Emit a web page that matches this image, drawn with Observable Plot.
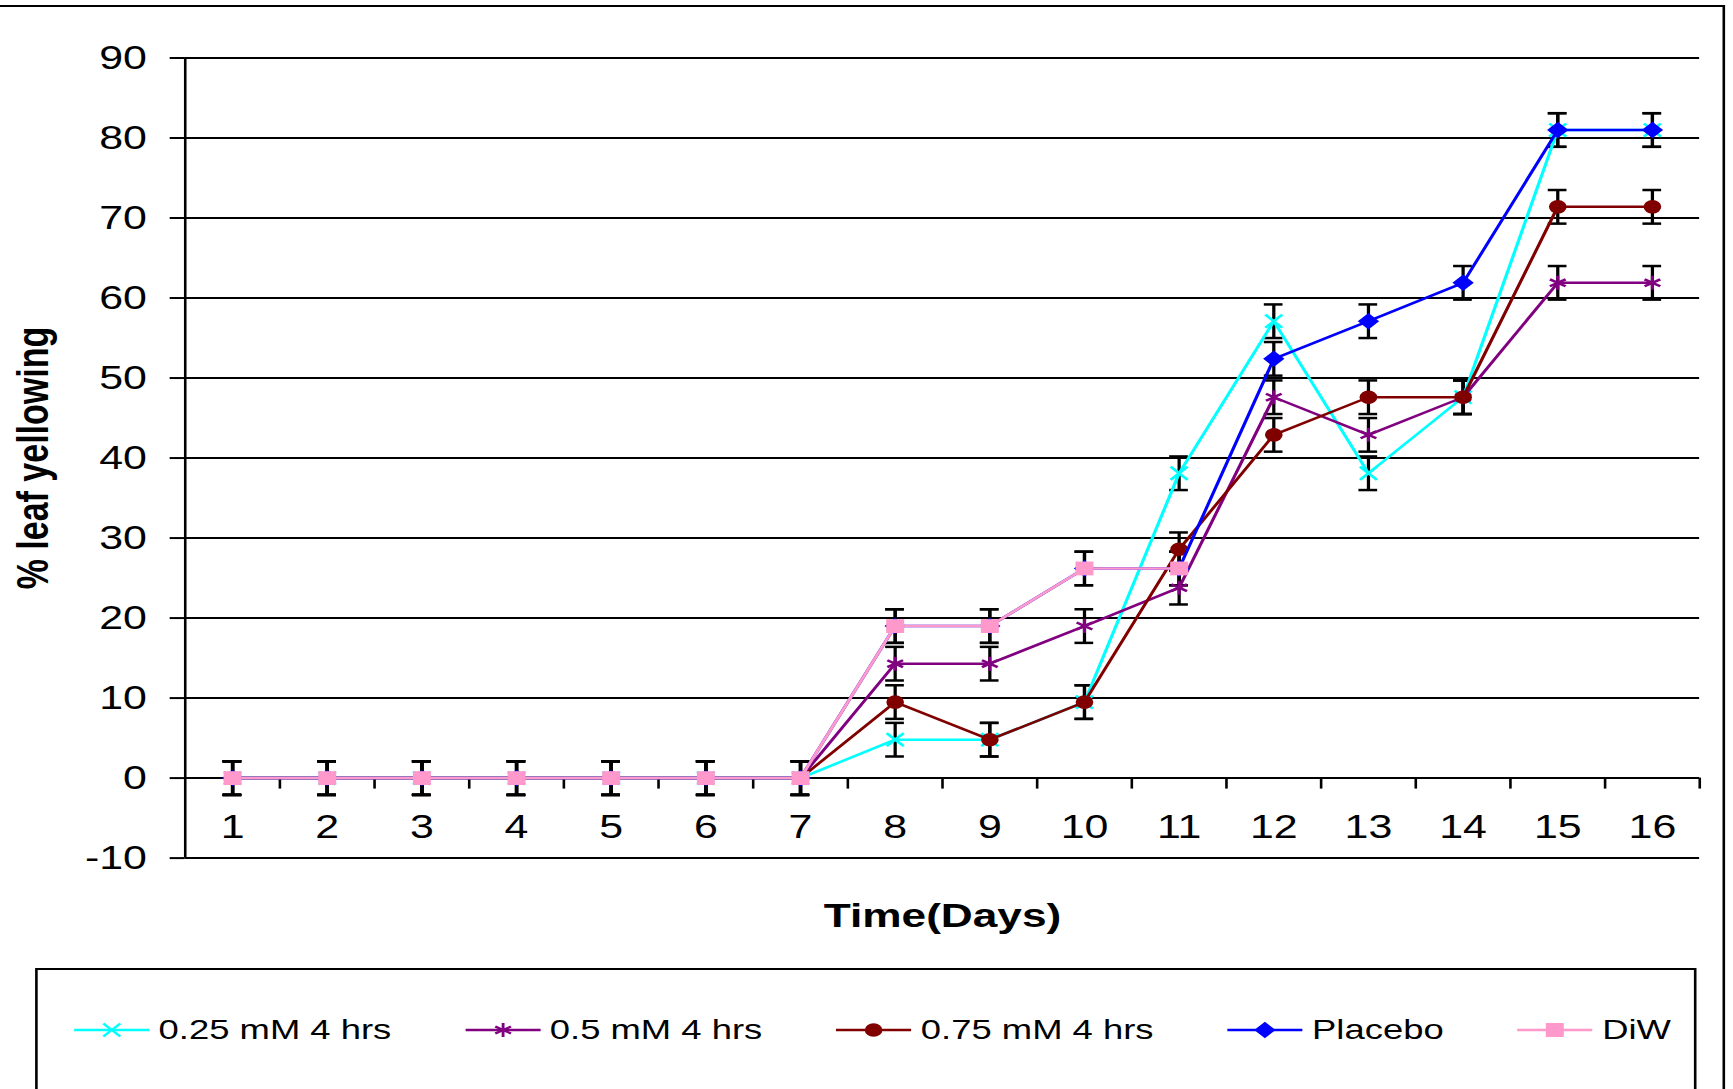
<!DOCTYPE html>
<html>
<head>
<meta charset="utf-8">
<script src="https://cdn.jsdelivr.net/npm/d3@7"></script>
<script src="https://cdn.jsdelivr.net/npm/@observablehq/plot@0.6"></script>
<style>
  html, body { margin: 0; padding: 0; background: #fff; overflow: hidden; }
  #stage { position: absolute; left: 0; top: 0; width: 1333px; height: 1089px;
           transform: scaleX(1.3); transform-origin: 0 0;
           font-family: 'Liberation Sans', Arial, sans-serif; color: #000; }
  #outer { position: absolute; left: -10px; top: 5px; width: 1337px; height: 1200px;
           border: 2px solid #000; box-sizing: border-box; }
  #plot { position: absolute; left: 0; top: 0; }
  #legend { position: absolute; left: 27px; top: 968px; width: 1278px; height: 200px;
            border: 2px solid #000; box-sizing: border-box; background: #fff; }
  #legend .row { position: absolute; top: 44px; left: 28px; display: flex; gap: 57px; align-items: center; }
  #legend .item { display: flex; align-items: center; }
  #legend .item svg { margin-right: 7px; display: block; }
  #legend .item span { font-size: 28px; line-height: 32px; white-space: nowrap; }
</style>
</head>
<body>
<div id="stage">
  <div id="outer"></div>
  <div id="plot"></div>
  <div id="legend"><div class="row"></div></div>
</div>
<script>
// ---- data ----
const days = [1, 2, 3, 4, 5, 6, 7, 8, 9, 10, 11, 12, 13, 14, 15, 16];
const seriesNames = ["0.25 mM 4 hrs", "0.5 mM 4 hrs", "0.75 mM 4 hrs", "Placebo", "DiW"];
const s025    = [0, 0, 0, 0, 0, 0, 0, 4.8, 4.8, 9.5, 38.1, 57.1, 38.1, 47.6, 81, 81];
const s05     = [0, 0, 0, 0, 0, 0, 0, 14.3, 14.3, 19, 23.8, 47.6, 42.9, 47.6, 61.9, 61.9];
const s075    = [0, 0, 0, 0, 0, 0, 0, 9.5, 4.8, 9.5, 28.6, 42.9, 47.6, 47.6, 71.4, 71.4];
const placebo = [0, 0, 0, 0, 0, 0, 0, 19, 19, 26.2, 26.2, 52.4, 57.1, 61.9, 81, 81];
const diw     = [0, 0, 0, 0, 0, 0, 0, 19, 19, 26.2, 26.2];
const errorSize = 2.1;
const yTicks = [-10, 0, 10, 20, 30, 40, 50, 60, 70, 80, 90];
const yTitle = "% leaf yellowing";
const xTitle = "Time(Days)";

// ---- styling ----
const seriesValues = [s025, s05, s075, placebo, diw];
const styles = [
  {color: "#00FFFF", symbol: "times",    d3sym: d3.symbolTimes,    r: 6,   filled: false},
  {color: "#800080", symbol: "asterisk", d3sym: d3.symbolAsterisk, r: 6.6, filled: false},
  {color: "#800000", symbol: "circle",   d3sym: d3.symbolCircle,   r: 6.8, filled: true},
  {color: "#0000FF", symbol: "diamond2", d3sym: d3.symbolDiamond2, r: 7.4, filled: true},
  {color: "#FF99CC", symbol: "square",   d3sym: d3.symbolSquare,   r: 7.8, filled: true}
];

const rows = seriesNames.flatMap((name, k) =>
  seriesValues[k].map((v, i) => ({series: name, k, day: days[i], value: v})));

const xDomain = [days[0] - 0.5, days[days.length - 1] + 0.5];
const boundaries = days.map(d => d + 0.5);

const marks = [
  Plot.ruleY(yTicks, {stroke: "#000", strokeWidth: 2}),
  Plot.ruleX([xDomain[0]], {stroke: "#000", strokeWidth: 2}),
  Plot.ruleX(boundaries, {x: d => d, y1: () => 0, y2: () => 0, insetBottom: -11, stroke: "#000", strokeWidth: 2}),
  Plot.axisY(yTicks, {tickSize: 11.5, tickPadding: 18, fontSize: 33, tickFormat: d => String(d),
                      label: null, stroke: "#000", strokeWidth: 2, strokeOpacity: 1}),
  Plot.text(days, {x: d => d, y: () => 0, dy: 49, text: d => String(d), fontSize: 33,
                   textAnchor: "middle", lineAnchor: "middle", fill: "#000"}),
  Plot.text([yTitle], {frameAnchor: "left", rotate: -90, dx: -116.6, text: d => d, fontSize: 34,
                       fontWeight: "bold", textAnchor: "middle", lineAnchor: "middle", fill: "#000"}),
  Plot.text([xTitle], {frameAnchor: "bottom", dy: 58.4, text: d => d, fontSize: 34,
                       fontWeight: "bold", textAnchor: "middle", lineAnchor: "middle", fill: "#000"}),
  // error bars
  Plot.ruleX(rows, {x: "day", y1: d => d.value - errorSize, y2: d => d.value + errorSize, stroke: "#000", strokeWidth: 2.5}),
  Plot.ruleY(rows, {y: d => d.value + errorSize, x1: "day", x2: "day", insetLeft: -7.2, insetRight: -7.2, stroke: "#000", strokeWidth: 2.5}),
  Plot.ruleY(rows, {y: d => d.value - errorSize, x1: "day", x2: "day", insetLeft: -7.2, insetRight: -7.2, stroke: "#000", strokeWidth: 2.5})
];

seriesNames.forEach((name, k) => {
  const st = styles[k];
  const data = rows.filter(d => d.k === k);
  marks.push(Plot.line(data, {x: "day", y: "value", stroke: st.color, strokeWidth: 2.5}));
  marks.push(Plot.dot(data, st.filled
    ? {x: "day", y: "value", symbol: st.symbol, r: st.r, fill: st.color, stroke: "none"}
    : {x: "day", y: "value", symbol: st.symbol, r: st.r, fill: "none", stroke: st.color, strokeWidth: 2.4}));
});

const chart = Plot.plot({
  width: 1333,
  height: 940,
  marginLeft: 142,
  marginRight: 26,
  marginTop: 57.5,
  marginBottom: 82.4,
  x: {domain: xDomain, axis: null},
  y: {domain: [yTicks[0], yTicks[yTicks.length - 1]]},
  style: {fontFamily: "'Liberation Sans', Arial, sans-serif", color: "#000", background: "transparent", overflow: "visible"},
  marks
});
document.getElementById("plot").appendChild(chart);

// ---- legend ----
const row = document.querySelector("#legend .row");
seriesNames.forEach((name, k) => {
  const st = styles[k];
  const item = document.createElement("div");
  item.className = "item";
  const svg = d3.create("svg").attr("width", 58).attr("height", 24);
  svg.append("line").attr("x1", 0).attr("x2", 58).attr("y1", 12).attr("y2", 12)
     .attr("stroke", st.color).attr("stroke-width", 2.5);
  const p = svg.append("path")
     .attr("d", d3.symbol(st.d3sym, Math.PI * st.r * st.r)())
     .attr("transform", "translate(29,12)");
  if (st.filled) p.attr("fill", st.color);
  else p.attr("fill", "none").attr("stroke", st.color).attr("stroke-width", 2.2);
  item.appendChild(svg.node());
  const span = document.createElement("span");
  span.textContent = name;
  item.appendChild(span);
  row.appendChild(item);
});
</script>
</body>
</html>
